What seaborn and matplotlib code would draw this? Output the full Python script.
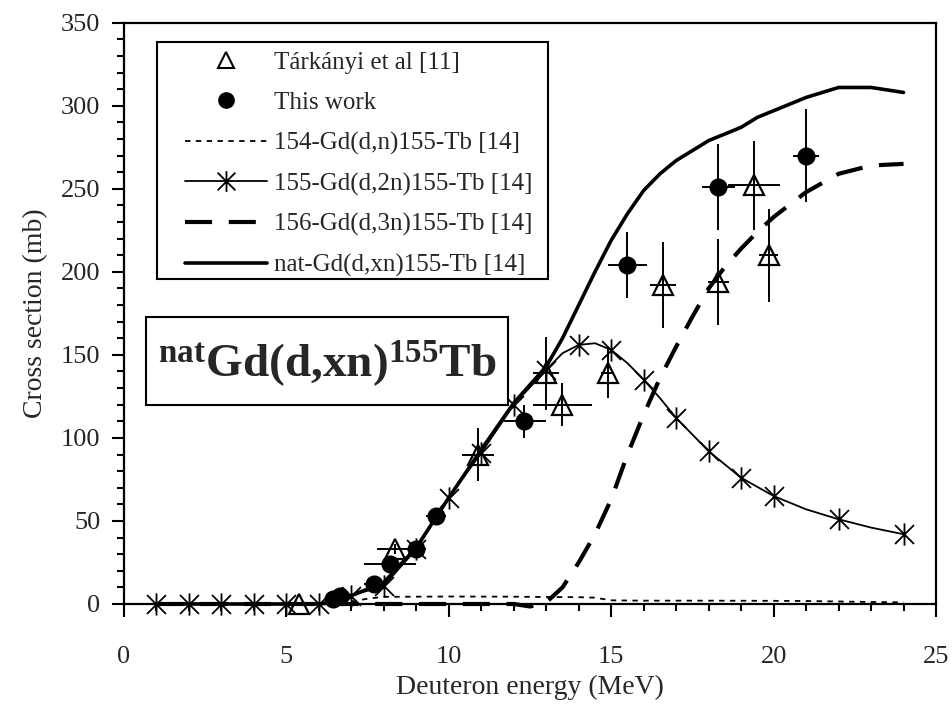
import numpy as np
import pandas as pd
import matplotlib
matplotlib.use("Agg")
import matplotlib.pyplot as plt
from matplotlib.lines import Line2D
from matplotlib.patches import Rectangle
from matplotlib.path import Path
from matplotlib.ticker import MultipleLocator
import seaborn as sns

# estilo: fundo branco, fonte tipo Times
sns.set_style("ticks")
plt.rcParams['font.family'] = ['Liberation Serif', 'DejaVu Serif']
plt.rcParams['mathtext.fontset'] = 'custom'
plt.rcParams['mathtext.rm'] = 'Liberation Serif'
plt.rcParams['mathtext.bf'] = 'Liberation Serif:bold'
plt.rcParams['axes.edgecolor'] = 'black'

# ------------------------------------------------------------------
# dados
# ------------------------------------------------------------------
# Tárkányi et al [11]
tark_e = [5.4, 8.35, 10.9, 13.0, 13.5, 14.9, 16.6, 18.3, 19.4, 19.85]
tark_y = [0, 33, 90, 139, 120, 139, 192, 194, 252, 210]
tark_yerr = [1, 3, 16, 22, 13, 15, 26, 26, 27, 28]
tark_xerr = [0.2, 0.55, 0.5, 0.4, 0.9, 0.2, 0.4, 0.33, 0.8, 0.3]

# This work
tw_e = [6.45, 6.65, 7.7, 8.2, 9.0, 9.6, 12.3, 15.5, 18.3, 21.0]
tw_y = [3, 5, 12, 24, 33, 53, 110, 204, 251, 270]
tw_yerr = [1, 1, 2, 3, 3, 5, 10, 20, 26, 28]
tw_xerr = [0.2, 0.2, 0.3, 0.8, 0.3, 0.3, 0.7, 0.6, 0.5, 0.4]

# 154-Gd(d,n)155-Tb [14]
dn_e = [1, 6, 6.5, 7, 7.5, 8, 10, 12, 13, 14, 14.5, 15, 16, 18, 20, 21, 22, 23, 24]
dn_y = [0, 0, 0.3, 1.5, 3.2, 4.3, 4.5, 4.4, 4.2, 4.1, 3.8, 2.2, 2.0, 2.0, 1.9, 1.8, 1.5, 1.2, 1.0]

# 155-Gd(d,2n)155-Tb [14] - curva e marcadores
d2n_curve_e = [1, 2, 3, 4, 5, 6, 7, 8, 9, 10, 11, 12, 13, 13.5, 14, 14.5, 15, 15.5,
               16, 16.5, 17, 18, 19, 20, 21, 22, 23, 24]
d2n_curve_y = [0, 0, 0, 0, 0, 0, 5, 11, 33, 64, 91, 120, 141, 151, 156, 157, 153, 145,
               135, 124, 112, 92, 76, 65, 57, 51, 46, 42]
d2n_mark_e = [1, 2, 3, 4, 5, 6, 7, 8, 9, 10, 11, 12, 13, 14, 15, 16, 17, 18, 19, 20, 22, 24]
d2n_mark_y = [0, 0, 0, 0, 0, 0, 5, 11, 33, 64, 91, 120, 141, 156, 153, 135, 112, 92, 76, 65, 51, 42]

# 156-Gd(d,3n)155-Tb [14]
d3n_e = [1, 12, 12.5, 13, 13.5, 14, 14.5, 15, 15.5, 16, 16.5, 17, 17.5, 18, 18.5, 19,
         19.5, 20, 21, 22, 23, 24]
d3n_y = [0, 0, -1.5, 1, 10, 25, 42, 63, 90, 114, 136, 155, 173, 190, 203, 214,
         224, 233, 248, 259, 264, 265]

# nat-Gd(d,xn)155-Tb [14]
nat_e = [1, 6, 6.5, 7, 8, 9, 10, 11, 12, 13, 13.5, 14, 14.5, 15, 15.5, 16, 16.5, 17,
         17.5, 18, 18.5, 19, 19.5, 20, 20.5, 21, 22, 23, 24]
nat_y = [0, 0, 1, 5, 13, 34, 64, 93, 121, 143, 160, 180, 200, 219, 235, 249, 259, 267,
         273, 279, 283, 287, 293, 297, 301, 305, 311, 311, 308]

# ------------------------------------------------------------------
# figura
# ------------------------------------------------------------------
fig = plt.figure(figsize=(9.53, 7.07), dpi=100)
ax = fig.add_axes([0.1301, 0.1457, 0.8521, 0.8222])

# marcador estrela do Excel: traco vertical + X
star = Path([(0, -1), (0, 1), (-0.85, -0.85), (0.85, 0.85), (-0.85, 0.85), (0.85, -0.85)],
            [Path.MOVETO, Path.LINETO, Path.MOVETO, Path.LINETO, Path.MOVETO, Path.LINETO])

sns.lineplot(x=dn_e, y=dn_y, ax=ax, color='black', lw=1.3, linestyle=(0, (3, 3)),
             estimator=None, sort=False, legend=False, clip_on=False)
sns.lineplot(x=d2n_curve_e, y=d2n_curve_y, ax=ax, color='black', lw=1.3,
             estimator=None, sort=False, legend=False, clip_on=False)
sns.lineplot(x=d3n_e, y=d3n_y, ax=ax, color='black', lw=3.0, linestyle=(0, (6.5, 4)),
             estimator=None, sort=False, legend=False, clip_on=False)
sns.lineplot(x=nat_e, y=nat_y, ax=ax, color='black', lw=2.6,
             estimator=None, sort=False, legend=False, clip_on=False)

ax.plot(d2n_mark_e, d2n_mark_y, ls='none', marker=star, ms=16, mec='black', mew=1.3,
        clip_on=False, zorder=4)

# barras de erro
ax.errorbar(tark_e, tark_y, xerr=tark_xerr, yerr=tark_yerr, fmt='none',
            ecolor='black', elinewidth=1.4, capsize=0, zorder=5)
ax.errorbar(tw_e, tw_y, xerr=tw_xerr, yerr=tw_yerr, fmt='none',
            ecolor='black', elinewidth=1.4, capsize=0, zorder=5)

ax.plot(tark_e, tark_y, ls='none', marker='^', ms=14, mfc='none', mec='black',
        mew=1.6, clip_on=False, zorder=6)
ax.plot(tw_e, tw_y, ls='none', marker='o', ms=12, mfc='black', mec='black',
        clip_on=False, zorder=6)

# eixos
ax.set_xlim(0, 25)
ax.set_ylim(0, 350)
ax.xaxis.set_major_locator(MultipleLocator(5))
ax.xaxis.set_minor_locator(MultipleLocator(1))
ax.yaxis.set_major_locator(MultipleLocator(50))
ax.yaxis.set_minor_locator(MultipleLocator(10))
ax.tick_params(which='both', direction='out', width=1.5, color='black', labelsize=19)
ax.tick_params(which='major', length=9)
ax.tick_params(which='minor', length=5)
ax.tick_params(axis='x', which='major', pad=21)
ax.tick_params(axis='y', which='major', pad=8)
for sp in ax.spines.values():
    sp.set_linewidth(1.6)
    sp.set_color('black')

ax.set_xlabel('Deuteron energy (MeV)', fontsize=20, labelpad=5)
ax.set_ylabel('Cross section (mb)', fontsize=20, labelpad=9)

# legenda (moldura desenhada a parte)
ax.add_patch(Rectangle((0.0406, 0.5588), 0.4815, 0.4083, transform=ax.transAxes,
                       fc='white', ec='black', lw=1.5, zorder=7))
handles = [
    Line2D([], [], ls='none', marker='^', ms=11, mfc='none', mec='black', mew=1.5),
    Line2D([], [], ls='none', marker='o', ms=11, mfc='black', mec='black'),
    Line2D([], [], color='black', lw=1.3, ls=(0, (3, 3))),
    Line2D([], [], color='black', lw=1.3, marker=star, ms=15, mew=1.3),
    Line2D([], [], color='black', lw=3.0, ls=(0, (6.5, 4))),
    Line2D([], [], color='black', lw=2.6),
]
labels = ['Tárkányi et al [11]', 'This work', '154-Gd(d,n)155-Tb [14]',
          '155-Gd(d,2n)155-Tb [14]', '156-Gd(d,3n)155-Tb [14]', 'nat-Gd(d,xn)155-Tb [14]']
leg = ax.legend(handles, labels, loc='upper left', bbox_to_anchor=(0.0751, 0.951),
                borderaxespad=0, borderpad=0, frameon=False, fontsize=18,
                handlelength=3.3, handletextpad=0.25, labelspacing=0.71)
leg.set_zorder(8)

# caixa com a reacao
ax.add_patch(Rectangle((0.0271, 0.3423), 0.4458, 0.1514, transform=ax.transAxes,
                       fc='white', ec='black', lw=1.5, zorder=7))
ax.text(0.251, 0.414, r'$\mathbf{^{nat}Gd(d{,}xn)^{155}Tb}$', transform=ax.transAxes,
        ha='center', va='center', fontsize=34, zorder=8)

fig.savefig('out.png', dpi=100)
